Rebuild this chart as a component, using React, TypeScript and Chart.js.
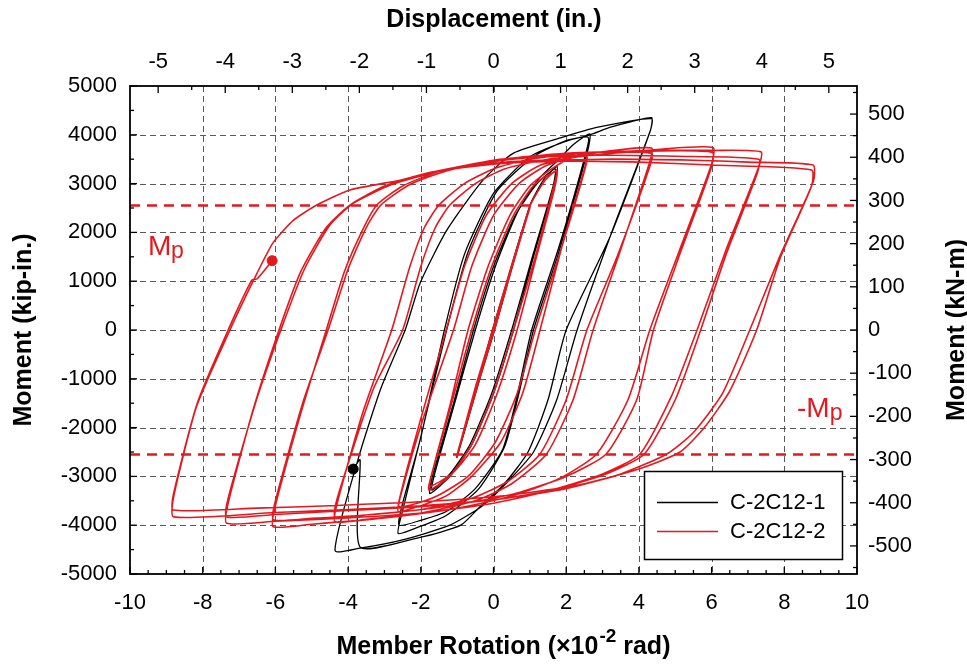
import React, { useEffect, useRef } from 'react';
import { Chart, registerables } from 'chart.js';

Chart.register(...registerables);

// ---------- axis ticks ----------
const rotationTicks = [-10, -8, -6, -4, -2, 0, 2, 4, 6, 8, 10];
const displacementTicks = [-5, -4, -3, -2, -1, 0, 1, 2, 3, 4, 5];
const momentTicks = [-5000, -4000, -3000, -2000, -1000, 0, 1000, 2000, 3000, 4000, 5000];
const kNmTicks = [-500, -400, -300, -200, -100, 0, 100, 200, 300, 400, 500];
const rotationPerInch = 1.845; // 1 in. of displacement = 1.845 x10^-2 rad
const kNmPerKipIn = 0.113;
const plasticMoment = 2550; // Mp, kip-in.

// ---------- C-2C12-2 (red) : [rotation x10^-2 rad, moment kip-in.] ----------
const redElastic = [
  [0, 0], [0.4, 1030], [0.05, 60], [-0.4, -1020], [-0.05, -60], [0.7, 1800], [0.1, 200], [-0.7, -1780],
  [-0.1, -200], [1.0, 2530], [0.4, 1000], [-1.01, -2600], [-0.45, -1050], [1.0, 2500], [0.35, 900],
  [-1.0, -2550], [-0.4, -950], [1.0, 2530],
];
const redCycle175 = [
  [1.4, 3050], [1.74, 3280], [1.66, 2950], [1.15, 1500], [0.55, 0], [0.0, -1300], [-0.6, -2350],
  [-1.2, -3000], [-1.78, -3280], [-1.7, -2950], [-1.15, -1500], [-0.6, 0], [-0.05, 1300], [0.55, 2350],
  [1.15, 3000], [1.74, 3250], [1.68, 2900], [1.2, 1550], [0.65, 0], [0.1, -1300], [-0.5, -2350],
  [-1.15, -2950], [-1.75, -3200], [-1.68, -2900], [-1.2, -1550], [-0.7, 0], [-0.15, 1300], [0.45, 2350],
  [1.0, 2950], [1.5, 3250],
];
const redCycle26 = [
  [2.0, 3480], [2.56, 3620], [2.5, 3300], [1.95, 1900], [1.28, 0], [0.8, -1300], [0.2, -2300],
  [-0.6, -3000], [-1.3, -3400], [-2.0, -3600], [-2.62, -3720], [-2.55, -3350], [-2.05, -1950],
  [-1.3, 0], [-0.8, 1300], [-0.2, 2350], [0.5, 3000], [1.3, 3380], [2.56, 3560], [2.5, 3250],
  [1.9, 1750], [1.15, 0], [0.65, -1300], [0.05, -2300], [-0.7, -3000], [-1.5, -3380], [-2.1, -3550],
  [-2.6, -3620], [-2.52, -3300], [-1.95, -1850], [-1.1, 0], [-0.6, 1300], [0.0, 2350], [0.7, 3000],
  [1.4, 3350], [2.0, 3500],
];
const redCycle435 = [
  [3.0, 3650], [4.35, 3730], [4.3, 3450], [3.5, 1650], [2.74, 0], [2.19, -1430], [1.46, -2540], [0.5, -3150],
  [-0.5, -3500], [-2.0, -3750], [-3.5, -3880], [-4.36, -3930], [-4.3, -3550], [-3.6, -1700], [-2.8, 0],
  [-2.3, 1300], [-1.9, 2100], [-1.5, 2560], [-0.8, 3000], [0, 3300], [1.0, 3500], [2.5, 3620], [4.35, 3620],
  [4.3, 3350], [3.4, 1500], [2.57, 0], [2.0, -1430], [1.28, -2540], [0.4, -3100], [-0.6, -3450],
  [-2.0, -3680], [-3.5, -3790], [-4.36, -3830], [-4.3, -3450], [-3.3, -1200], [-2.5, 0], [-2.0, 1300],
  [-1.6, 2100], [-1.2, 2560], [-0.5, 3000], [0.3, 3300], [1.5, 3500], [3.0, 3600],
];
const redCycle605 = [
  [4.5, 3700], [6.04, 3740], [6.0, 3400], [5.1, 1600], [4.3, 0], [3.7, -1430], [2.84, -2540], [1.8, -3050],
  [0.5, -3400], [-1.0, -3650], [-3.0, -3850], [-5.0, -3980], [-6.06, -4030], [-6.0, -3600], [-5.3, -1700],
  [-4.6, 0], [-4.1, 1200], [-3.6, 2050], [-3.21, 2560], [-2.5, 2950], [-1.5, 3250], [0, 3480], [2.0, 3620],
  [4.0, 3660], [6.02, 3640], [5.98, 3300], [5.1, 1500], [4.4, 0], [3.94, -1430], [3.1, -2540], [2.0, -3000],
  [0.6, -3350], [-1.0, -3580], [-3.0, -3760], [-5.0, -3860], [-6.06, -3890], [-6.0, -3500], [-5.25, -1500],
  [-4.55, 0], [-4.0, 1250], [-3.5, 2100], [-3.1, 2560], [-2.3, 2980], [-1.2, 3280], [0.5, 3500],
  [2.5, 3620], [4.5, 3680],
];
const redCycle735 = [
  [6.0, 3680], [7.36, 3650], [7.3, 3350], [6.4, 1650], [5.6, 0], [4.9, -1350], [4.03, -2540], [3.0, -2950],
  [1.5, -3300], [0, -3550], [-2.0, -3750], [-4.0, -3850], [-6.0, -3920], [-7.34, -3960], [-7.3, -3550],
  [-6.6, -1600], [-5.9, 0], [-5.3, 1200], [-4.6, 2100], [-3.95, 2560], [-3.0, 2950], [-2.0, 3180],
  [-0.5, 3400], [1.0, 3530], [3.0, 3580], [5.0, 3560], [7.3, 3500], [7.25, 3200], [6.4, 1550], [5.7, 0],
  [5.0, -1430], [4.15, -2540], [3.1, -2950], [1.5, -3300], [0, -3480], [-2.0, -3620], [-4.0, -3700],
  [-6.0, -3780], [-7.34, -3830], [-7.3, -3450], [-6.55, -1500], [-5.85, 0], [-5.2, 1250], [-4.5, 2150],
  [-3.85, 2600], [-2.8, 2980], [-1.5, 3250], [0.5, 3450], [3.0, 3500], [5.5, 3480],
];
const redCycle88 = [
  [7.0, 3440], [8.79, 3380], [8.8, 3050], [7.9, 1550], [7.05, 0], [6.3, -1300], [5.5, -2100], [4.77, -2540],
  [3.5, -2950], [2.0, -3250], [0, -3480], [-2.0, -3600], [-4.0, -3680], [-6.0, -3740], [-8.8, -3830],
  [-8.8, -3420], [-8.17, -1570], [-7.25, 0], [-6.6, 1020], [-6.07, 1780], [-5.5, 2250], [-4.86, 2560],
  [-3.95, 2870], [-2.57, 3070], [-1.66, 3240], [0, 3400], [2.0, 3460], [4.0, 3440], [6.0, 3380],
  [8.75, 3280], [8.75, 2950], [7.9, 1500], [7.24, 0], [6.5, -1250], [5.8, -2000], [5.13, -2500],
  [4.0, -2850], [2.5, -3150], [0.5, -3380], [-2.0, -3520], [-4.5, -3600], [-6.5, -3650], [-8.81, -3690],
  [-8.8, -3350], [-8.15, -1500], [-7.3, 0], [-6.65, 1020], [-6.5, 1050], [-6.09, 1420],
];
const redEndPoint = [-6.09, 1420];

// ---------- C-2C12-1 (black) ----------
const blackElastic = [
  [0, 0], [0.5, 1270], [0.06, 80], [-0.5, -1290], [-0.06, -80], [1.0, 2550], [0.4, 1000], [-1.0, -2600],
  [-0.4, -1000], [1.0, 2550],
];
const blackCycle175 = [
  [1.4, 3100], [1.75, 3350], [1.7, 3050], [1.1, 1500], [0.55, 0], [0.0, -1300], [-0.6, -2350],
  [-1.2, -3000], [-1.75, -3350], [-1.68, -3000], [-1.1, -1500], [-0.55, 0], [0.0, 1300], [0.6, 2350],
  [1.2, 3000], [1.7, 3300], [1.64, 2950], [1.05, 1450], [0.5, 0], [-0.05, -1300], [-0.65, -2350],
  [-1.2, -2950], [-1.7, -3280], [-1.62, -2950], [-1.05, -1450], [-0.5, 0], [0.05, 1300], [0.65, 2400],
  [1.25, 3100], [1.8, 3500],
];
const blackCycle265 = [
  [2.2, 3800], [2.65, 4020], [2.6, 3700], [1.8, 1600], [1.1, 0], [0.7, -1300], [0.3, -2400], [-0.4, -3250],
  [-1.3, -3800], [-2.0, -4020], [-2.62, -4170], [-2.5, -3700], [-2.02, -2250], [-1.29, 0], [-0.7, 1600],
  [0.1, 2850], [1.1, 3550], [2.0, 3880], [2.6, 3950], [2.55, 3650], [1.8, 1700], [1.05, 0], [0.65, -1350],
  [0.25, -2450], [-0.5, -3250], [-1.3, -3720], [-2.0, -3900], [-2.6, -4000], [-2.5, -3550], [-2.0, -2200],
  [-1.35, 0], [-0.8, 1550], [0.0, 2800], [1.0, 3550], [2.0, 3870], [2.65, 4000],
];
const blackCycle435 = [
  [3.2, 4150], [3.8, 4270], [4.35, 4350], [4.32, 4100], [3.3, 2100], [2.3, 0], [1.74, -1430], [1.1, -2500],
  [0.4, -3100], [-0.3, -3600], [-1.2, -4000], [-2.5, -4300], [-3.67, -4470], [-4.36, -4520],
  [-3.73, -2660], [-3.1, -1200], [-2.43, 0], [-2.02, 960], [-1.28, 2050], [-0.29, 3070], [0.54, 3620],
  [1.91, 3950], [2.84, 4150], [4.35, 4330], [4.3, 4050], [3.2, 1900], [2.0, 0], [1.5, -1430], [0.95, -2500],
  [0.3, -3150], [-0.37, -3620], [-0.9, -4000], [-2.02, -4250], [-3.67, -4450], [-3.67, -2660],
  [-3.86, -2850],
];
const blackEndPoint = [-3.86, -2850];

const RED = '#e3191f';
const FONT = '"Liberation Sans", Arial, Helvetica, sans-serif';

const toXY = (arr: number[][]) => arr.map(([x, y]) => ({ x, y }));

const overlayPlugin = {
  id: 'overlay',
  beforeDatasetsDraw(chart: any) {
    const { ctx, chartArea: a, scales } = chart;
    ctx.save();
    ctx.strokeStyle = 'rgba(60,60,60,0.85)';
    ctx.lineWidth = 1;
    ctx.setLineDash([6, 4]);
    for (const v of rotationTicks) {
      if (v === rotationTicks[0] || v === rotationTicks[rotationTicks.length - 1]) continue;
      const px = Math.round(scales.x.getPixelForValue(v)) + 0.5;
      ctx.beginPath(); ctx.moveTo(px, a.top); ctx.lineTo(px, a.bottom); ctx.stroke();
    }
    for (const v of momentTicks) {
      if (v === momentTicks[0] || v === momentTicks[momentTicks.length - 1]) continue;
      const py = Math.round(scales.y.getPixelForValue(v)) + 0.5;
      ctx.beginPath(); ctx.moveTo(a.left, py); ctx.lineTo(a.right, py); ctx.stroke();
    }
    ctx.restore();
  },
  afterDatasetsDraw(chart: any) {
    const { ctx, chartArea: a, scales } = chart;
    ctx.save();
    // frame
    ctx.strokeStyle = '#000';
    ctx.lineWidth = 1.8;
    ctx.setLineDash([]);
    ctx.strokeRect(a.left, a.top, a.right - a.left, a.bottom - a.top);
    // inward ticks
    ctx.lineWidth = 1.3;
    const tick = (x1: number, y1: number, x2: number, y2: number) => {
      ctx.beginPath(); ctx.moveTo(x1, y1); ctx.lineTo(x2, y2); ctx.stroke();
    };
    const MAJ = 7, MIN = 4;
    for (let v = -10; v <= 10.001; v += 0.5) {
      const px = scales.x.getPixelForValue(v);
      const len = Math.abs(v % 2) < 1e-6 ? MAJ : MIN;
      tick(px, a.bottom, px, a.bottom - len);
    }
    for (let v = -5.5; v <= 5.501; v += 0.5) {
      const px = scales.x2.getPixelForValue(v);
      if (px < a.left || px > a.right) continue;
      const len = Math.abs(v % 1) < 1e-6 ? MAJ : MIN;
      tick(px, a.top, px, a.top + len);
    }
    for (let v = -5000; v <= 5000; v += 500) {
      const py = scales.y.getPixelForValue(v);
      const len = v % 1000 === 0 ? MAJ : MIN;
      tick(a.left, py, a.left + len, py);
    }
    for (let v = -550; v <= 550; v += 50) {
      const py = scales.y2.getPixelForValue(v);
      const len = v % 100 === 0 ? MAJ : MIN;
      tick(a.right, py, a.right - len, py);
    }

    // Mp labels
    ctx.fillStyle = RED;
    ctx.textBaseline = 'alphabetic';
    ctx.textAlign = 'left';
    ctx.font = `28px ${FONT}`;
    ctx.fillText('M', 148, 255);
    ctx.font = `23px ${FONT}`;
    ctx.fillText('p', 171, 258);
    ctx.font = `28px ${FONT}`;
    ctx.fillText('-M', 797, 417);
    const wm = ctx.measureText('-M').width;
    ctx.font = `23px ${FONT}`;
    ctx.fillText('p', 797 + wm, 420);

    // legend
    ctx.fillStyle = '#fff';
    ctx.fillRect(644.5, 471.5, 198, 88);
    ctx.strokeStyle = '#000';
    ctx.lineWidth = 1.5;
    ctx.strokeRect(644.5, 471.5, 198, 88);
    ctx.lineWidth = 1.6;
    ctx.strokeStyle = '#000';
    tick(657, 502.5, 718, 502.5);
    ctx.strokeStyle = RED;
    tick(657, 531.5, 718, 531.5);
    ctx.fillStyle = '#000';
    ctx.font = `22px ${FONT}`;
    ctx.textBaseline = 'middle';
    ctx.fillText(String(chart.data.datasets[5].label), 730, 503);
    ctx.fillText(String(chart.data.datasets[4].label), 730, 532);

    // titles
    ctx.fillStyle = '#000';
    ctx.textBaseline = 'alphabetic';
    ctx.font = `bold 25px ${FONT}`;
    ctx.textAlign = 'center';
    ctx.fillText('Displacement (in.)', 494, 27);

    const p1 = 'Member Rotation (\u00d710';
    const sup = '-2';
    const p2 = ' rad)';
    ctx.textAlign = 'left';
    const w1 = ctx.measureText(p1).width;
    const w2 = ctx.measureText(p2).width;
    ctx.font = `bold 19px ${FONT}`;
    const ws = ctx.measureText(sup).width;
    const x0 = 503 - (w1 + ws + w2) / 2;
    ctx.font = `bold 25px ${FONT}`;
    ctx.fillText(p1, x0, 654);
    ctx.font = `bold 19px ${FONT}`;
    ctx.fillText(sup, x0 + w1 + 1, 642);
    ctx.font = `bold 25px ${FONT}`;
    ctx.fillText(p2, x0 + w1 + ws + 1, 654);

    ctx.textAlign = 'center';
    ctx.save();
    ctx.translate(31, 330);
    ctx.rotate(-Math.PI / 2);
    ctx.fillText('Moment (kip-in.)', 0, 0);
    ctx.restore();
    ctx.save();
    ctx.translate(964, 330);
    ctx.rotate(-Math.PI / 2);
    ctx.fillText('Moment (kN-m)', 0, 0);
    ctx.restore();

    ctx.restore();
  },
};

const tickFont = { family: FONT, size: 22 };

export default function App() {
  const ref = useRef<HTMLCanvasElement | null>(null);
  useEffect(() => {
    document.body.style.margin = '0';
    document.body.style.overflow = 'hidden';
    const canvas = ref.current;
    if (!canvas) return;
    const redPath = [...redElastic, ...redCycle175, ...redCycle26, ...redCycle435, ...redCycle605, ...redCycle735, ...redCycle88];
    const blackPath = [...blackElastic, ...blackCycle175, ...blackCycle265, ...blackCycle435];
    const chart = new Chart(canvas, {
      type: 'scatter',
      data: {
        datasets: [
          {
            label: 'Mp', data: toXY([[-10, plasticMoment], [10, plasticMoment]]), showLine: true,
            borderColor: RED, borderWidth: 2.6, borderDash: [10, 7], pointRadius: 0, tension: 0,
          },
          {
            label: '-Mp', data: toXY([[-10, -plasticMoment], [10, -plasticMoment]]), showLine: true,
            borderColor: RED, borderWidth: 2.6, borderDash: [10, 7], pointRadius: 0, tension: 0,
          },
          {
            label: 'red end', data: toXY([redEndPoint]), showLine: false, pointRadius: 5,
            backgroundColor: RED, borderColor: RED,
          },
          {
            label: 'black end', data: toXY([blackEndPoint]), showLine: false, pointRadius: 5,
            backgroundColor: '#000', borderColor: '#000',
          },
          {
            label: 'C-2C12-2', data: toXY(redPath), showLine: true, borderColor: RED,
            borderWidth: 1.6, pointRadius: 0, tension: 0.2,
          },
          {
            label: 'C-2C12-1', data: toXY(blackPath), showLine: true, borderColor: '#000',
            borderWidth: 1.3, pointRadius: 0, tension: 0.2,
          },
        ],
      },
      options: {
        animation: false,
        responsive: false,
        maintainAspectRatio: false,
        layout: { padding: 0 },
        events: [],
        plugins: { legend: { display: false }, tooltip: { enabled: false } },
        scales: {
          x: {
            type: 'linear', position: 'bottom', min: -10, max: 10,
            afterBuildTicks: (s: any) => { s.ticks = rotationTicks.map((v) => ({ value: v })); },
            afterFit: (s: any) => { s.height = 90; },
            grid: { display: false, drawTicks: false }, border: { display: false },
            ticks: { padding: 16, font: tickFont, color: '#000', autoSkip: false, maxRotation: 0, callback: (v: any) => String(v) },
          },
          x2: {
            type: 'linear', position: 'top', display: true,
            min: -10 / rotationPerInch, max: 10 / rotationPerInch,
            afterBuildTicks: (s: any) => { s.ticks = displacementTicks.map((v) => ({ value: v })); },
            afterFit: (s: any) => { s.height = 86; },
            grid: { display: false, drawTicks: false }, border: { display: false },
            ticks: { padding: 11, font: tickFont, color: '#000', autoSkip: false, maxRotation: 0, callback: (v: any) => String(v) },
          },
          y: {
            type: 'linear', position: 'left', min: -5000, max: 5000,
            afterBuildTicks: (s: any) => { s.ticks = momentTicks.map((v) => ({ value: v })); },
            afterFit: (s: any) => { s.width = 130; },
            grid: { display: false, drawTicks: false }, border: { display: false },
            ticks: { padding: 13, font: tickFont, color: '#000', autoSkip: false, callback: (v: any) => String(v) },
          },
          y2: {
            type: 'linear', position: 'right', display: true,
            min: -5000 * kNmPerKipIn, max: 5000 * kNmPerKipIn,
            afterBuildTicks: (s: any) => { s.ticks = kNmTicks.map((v) => ({ value: v })); },
            afterFit: (s: any) => { s.width = 110; },
            grid: { display: false, drawTicks: false }, border: { display: false },
            ticks: { padding: 11, font: tickFont, color: '#000', autoSkip: false, callback: (v: any) => String(v) },
          },
        },
      } as any,
      plugins: [overlayPlugin],
    });
    return () => chart.destroy();
  }, []);
  return (
    <div style={{ width: 967, height: 664, background: '#fff' }}>
      <canvas ref={ref} width={967} height={664} style={{ width: 967, height: 664, display: 'block' }} />
    </div>
  );
}
